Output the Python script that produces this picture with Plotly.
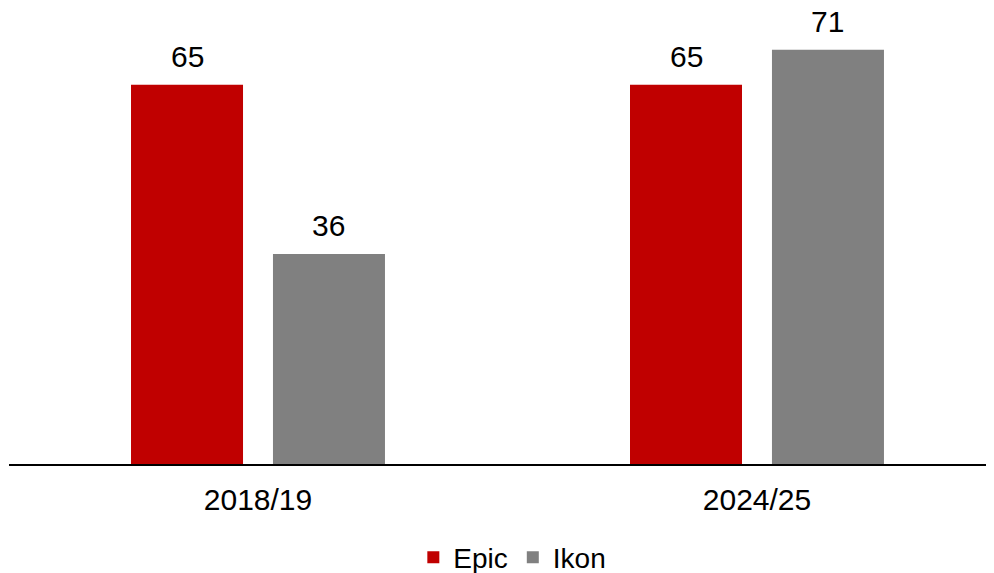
import plotly.graph_objects as go

categories = ["2018/19", "2024/25"]
epic = [65, 65]
ikon = [36, 71]
series_names = ["Epic", "Ikon"]
colors = ["#C00000", "#808080"]

FONT = "Liberation Sans, Arial, sans-serif"
FS = 30
bargap = 0.431
bargroupgap = 0.211

fig = go.Figure()
for name, vals, col in zip(series_names, [epic, ikon], colors):
    fig.add_trace(go.Bar(x=categories, y=vals, name=name, marker_color=col,
                         marker_line_width=0))

# value labels above bars
half = (1 - bargap) / 4
for k, vals in enumerate([epic, ikon]):
    off = -half if k == 0 else half
    for i, v in enumerate(vals):
        fig.add_annotation(x=i + off, y=v, text=str(v), showarrow=False,
                           yanchor="bottom", yshift=10,
                           font=dict(size=FS, color="#000000", family=FONT))

fig.update_layout(
    width=986, height=565,
    margin=dict(l=1, r=0, t=0, b=109, autoexpand=False),
    paper_bgcolor="white", plot_bgcolor="white",
    barmode="group", bargap=bargap, bargroupgap=bargroupgap,
    font=dict(family=FONT, size=FS, color="#000000"),
    showlegend=True,
    legend=dict(orientation="h", x=0.511, xanchor="center", y=-0.205, yanchor="middle",
                font=dict(size=28), itemwidth=30, traceorder="normal"),
    xaxis=dict(range=[-0.499, 1.475], showline=True, linecolor="black", linewidth=2,
               showgrid=False, zeroline=False, ticks="", tickfont=dict(size=FS),
               ticklabelstandoff=8, automargin=False),
    yaxis=dict(range=[0, 78.15], showticklabels=False, showgrid=False,
               zeroline=False, showline=False, automargin=False),
)
fig.write_html("out.html")
